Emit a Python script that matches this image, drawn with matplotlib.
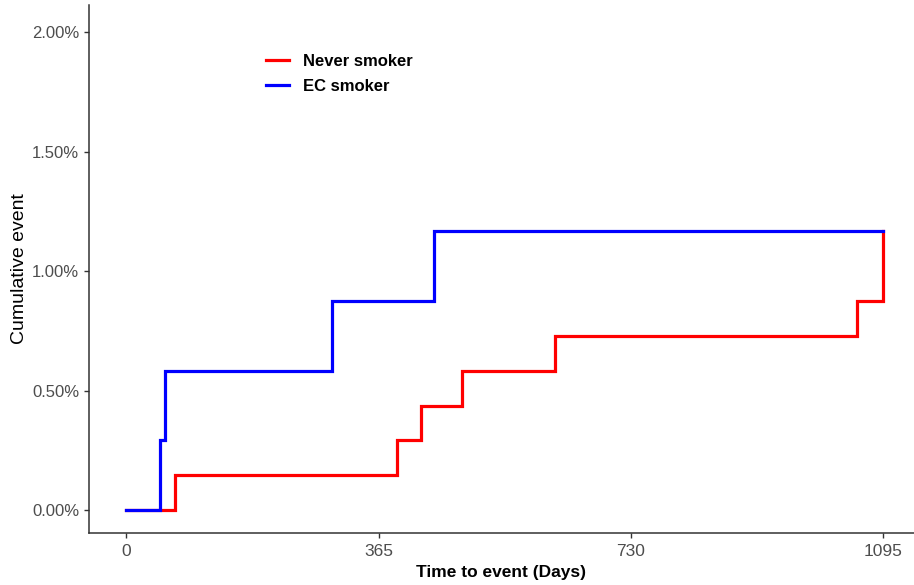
import matplotlib
matplotlib.use("Agg")
import matplotlib.pyplot as plt
from matplotlib.ticker import FuncFormatter

# Data (cumulative event, percent)
never_days = [0, 71, 391, 427, 486, 620, 1058, 1095]
never_pct = [0.0, 0.146, 0.292, 0.438, 0.584, 0.730, 0.876, 1.168]
ec_days = [0, 48, 56, 297, 445, 1095]
ec_pct = [0.0, 0.292, 0.584, 0.876, 1.168, 1.168]
x_ticks = [0, 365, 730, 1095]
y_ticks = [0.0, 0.5, 1.0, 1.5, 2.0]

plt.rcParams['font.family'] = ['Liberation Sans', 'DejaVu Sans']
narrow = ['Liberation Sans Narrow', 'Liberation Sans', 'DejaVu Sans']

fig = plt.figure(figsize=(9.14, 5.85), dpi=100)
ax = fig.add_axes([89/914, 1 - 533/585, 1 - 89/914, (533 - 5)/585])

ax.step(never_days + [never_days[-1]], never_pct + [never_pct[-1]], where='post',
        color='#FF0000', lw=2.3, label='Never smoker', solid_joinstyle='miter')
ax.step(ec_days, ec_pct, where='post', color='#0000FF', lw=2.3, label='EC smoker',
        solid_joinstyle='miter')

ax.set_xlim(-54.2, 1140)
ax.set_ylim(-0.095, 2.113)
ax.set_xticks(x_ticks)
ax.set_yticks(y_ticks)
ax.yaxis.set_major_formatter(FuncFormatter(lambda v, p: f"{v:.2f}%"))

for s in ['top', 'right']:
    ax.spines[s].set_visible(False)
for s in ['left', 'bottom']:
    ax.spines[s].set_color('#333333')
    ax.spines[s].set_linewidth(1.1)

ax.tick_params(axis='both', colors='#333333', length=3.5, width=1.0, labelsize=12,
               labelcolor='#4D4D4D')
ax.tick_params(axis='x', pad=4.5)
for lab in ax.get_xticklabels():
    lab.set_family(narrow)
    lab.set_fontsize(12.5)

ax.set_xlabel('Time to event (Days)', fontsize=12.5, fontweight='bold', labelpad=4,
              family=narrow)
ax.set_ylabel('Cumulative event', fontsize=14, labelpad=3)

leg = ax.legend(loc='upper left', bbox_to_anchor=(0.196, 0.935), frameon=False,
                prop={'weight': 'bold', 'size': 12}, handlelength=1.4,
                handletextpad=0.85, labelspacing=0.58)

fig.savefig('out.png', dpi=100)
